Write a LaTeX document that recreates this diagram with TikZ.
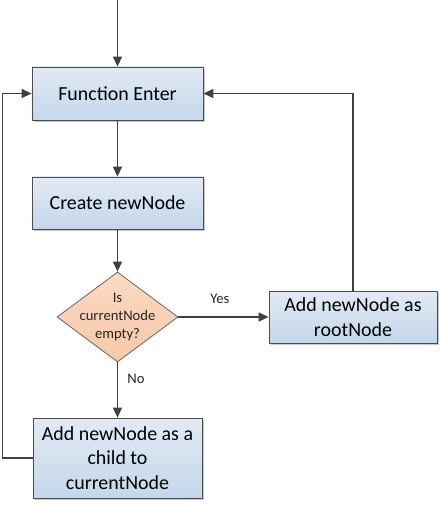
\documentclass[tikz,border=0pt]{standalone}
\usepackage{fontspec}
\setmainfont{Carlito}
\usetikzlibrary{arrows.meta}
\usetikzlibrary{shapes.geometric}
\usetikzlibrary{shadows}

\begin{document}
\begin{tikzpicture}[%
        x=1bp, y=-1bp,
        proc/.style={
            % the shape:
            rectangle,
            minimum width=171bp,
            minimum height=53bp,
            % the rest:
            draw=black!70,
            line width=.8bp,
            top color={rgb,255:red,225;green,234;blue,244},
            bottom color={rgb,255:red,196;green,215;blue,234},
            drop shadow={shadow xshift=2bp, shadow yshift=-2bp, fill=black!22, opacity=1},
            font=\fontsize{20}{24.4}\selectfont,
            align=center,
        },
        decision/.style={
            diamond,
            shape aspect=1.344,
            inner sep=-4.5bp,
            minimum width=121bp,
            minimum height=90bp,
            draw=black!60,
            line width=.8bp,
            top color={rgb,255:red,251;green,218;blue,195},
            bottom color={rgb,255:red,246;green,200;blue,168},
            font=\fontsize{14.7}{17.9}\selectfont,
            text=black!85,
            align=center
        },
        answer/.style={
            font=\fontsize{14.7}{17.9}\selectfont,
            text=black!85
        },
        link/.style={
            draw=black!75,
            ->
        },
        >={Triangle[length=10bp,width=9bp]}, line width=1.3bp
    ]

    \useasboundingbox (0,0) rectangle (444,505);

    \node[proc] (enter) at (117.5,93.5) {Function Enter};
    \node[proc, minimum height=52bp] (create) at (117.5,203) {Create newNode};
    \node[decision] (check) at (117.5,317) {Is\\currentNode\\empty?};
    \node[proc, minimum width=168bp, minimum height=52bp] (root) at (353,317) {Add newNode as\\rootNode};
    \node[proc, minimum width=169bp, minimum height=80bp] (child) at (117.5,458) {Add newNode as a\\child to\\currentNode};
    \coordinate (start) at (117.5,0);

    \draw[link] (start) -- (enter);
    \draw[link] (enter) -- (create);
    \draw[link] (create) -- (check);
    \draw[link] (check) -- node[answer, above=9bp, pos=.46] {Yes} (root);
    \draw[link] (check) -- node[answer, right=6bp, pos=.3] {No} (child);
    \draw[link] (root) |- (enter);
    \draw[link] (child.west) -- ++(-30,0) |- (enter.west);

\end{tikzpicture}
\end{document}
